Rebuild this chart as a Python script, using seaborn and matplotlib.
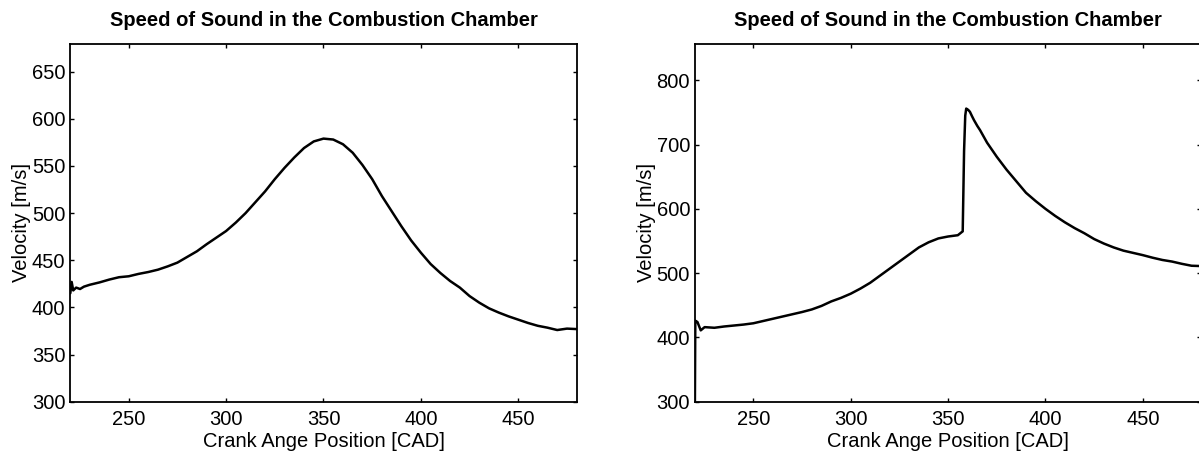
import matplotlib
matplotlib.use("Agg")
import matplotlib.pyplot as plt
import pandas as pd
import seaborn as sns

# ── 数据：左图（无燃烧），右图（燃烧） ──
cad_left = [220, 220.7, 221.5, 223, 225, 227, 230, 235, 240, 245, 250, 255, 260, 265,
            270, 275, 280, 285, 290, 295, 300, 305, 310, 315, 320, 325, 330, 335,
            340, 345, 350, 355, 360, 365, 370, 375, 380, 385, 390, 395, 400, 405,
            410, 415, 420, 425, 430, 435, 440, 445, 450, 455, 460, 465, 470, 475, 480]
vel_left = [415, 427, 418, 421, 419.5, 422, 424, 426.5, 429.5, 432, 433, 435.5, 437.5, 440,
            443.5, 447.5, 453.5, 459.5, 467, 474, 481, 490, 500, 511.5, 523, 536, 548, 559,
            569, 576, 579, 578, 573, 564, 551, 536, 518, 502, 486, 471, 458, 446,
            436.5, 428, 421, 412, 405, 399, 394.5, 390.5, 387, 383.5, 380.5, 378.5, 376, 377.5, 377]

cad_right = [220, 220.2, 221.3, 223, 225, 230, 235, 240, 245, 250, 255, 260, 265, 270,
             275, 280, 285, 290, 295, 300, 305, 310, 315, 320, 325, 330, 335, 340,
             345, 350, 355, 357.5, 358.2, 358.8, 359.3, 360.3, 361.2, 362.3, 363.3,
             365, 366.4, 370, 375, 380, 385, 390, 395, 400, 405, 410, 415, 420, 425,
             430, 435, 440, 445, 450, 455, 460, 465, 470, 475, 480]
vel_right = [300, 426, 424, 411, 416, 415, 417, 418.5, 420, 422, 425.5, 429, 432.5, 436,
             439.5, 443.5, 449, 456, 461.5, 468, 476, 485, 496, 507, 518, 529, 540, 548,
             554, 557, 559, 565, 690, 745, 756, 754, 751, 744, 738,
             729, 722.5, 703, 681, 661, 643, 625, 612, 600, 589, 579, 570, 562, 553,
             546, 540, 535, 531.5, 528, 524, 520.5, 518, 514.5, 511.5, 511]

title = "Speed of Sound in the Combustion Chamber"
xlabel = "Crank Ange Position [CAD]"
ylabel = "Velocity [m/s]"
xticks = [250, 300, 350, 400, 450]
yticks_left = [300, 350, 400, 450, 500, 550, 600, 650]
yticks_right = [300, 400, 500, 600, 700, 800]

sns.set_style("ticks")
plt.rcParams["font.family"] = ["Liberation Sans", "DejaVu Sans"]
plt.rcParams["text.color"] = "black"
plt.rcParams["axes.labelcolor"] = "black"

W, H = 1199, 451
fig = plt.figure(figsize=(W / 100, H / 100), dpi=100)
ax_left = fig.add_axes([70.3 / W, (H - 401.7) / H, 506.4 / W, 357.4 / H])
ax_right = fig.add_axes([694.9 / W, (H - 401.7) / H, 506.4 / W, 357.4 / H])

panels = [
    (ax_left, cad_left, vel_left, yticks_left, (300, 679)),
    (ax_right, cad_right, vel_right, yticks_right, (300, 856)),
]

for ax, cad, vel, yticks, ylim in panels:
    df = pd.DataFrame({"cad": cad, "vel": vel})
    sns.lineplot(data=df, x="cad", y="vel", ax=ax, color="black",
                 linewidth=1.8, estimator=None, sort=False)
    ax.set_xlim(220, 480)
    ax.set_ylim(*ylim)
    ax.set_xticks(xticks)
    ax.set_yticks(yticks)
    for side in ["top", "right", "bottom", "left"]:
        ax.spines[side].set_visible(True)
        ax.spines[side].set_linewidth(1.3)
        ax.spines[side].set_color("black")
    ax.tick_params(axis="both", direction="in", top=True, right=True,
                   length=3, width=1, labelsize=14.5, colors="black")
    ax.tick_params(axis="x", pad=6)
    ax.tick_params(axis="y", pad=3.5)
    ax.set_title(title, fontsize=14.5, fontweight="bold", pad=13, color="black")
    ax.set_xlabel(xlabel, fontsize=14.5, labelpad=2)
    ax.set_ylabel(ylabel, fontsize=14.5)
    ax.yaxis.set_label_coords(-0.077, 0.5)

fig.savefig("out.png", dpi=100)
plt.close(fig)
